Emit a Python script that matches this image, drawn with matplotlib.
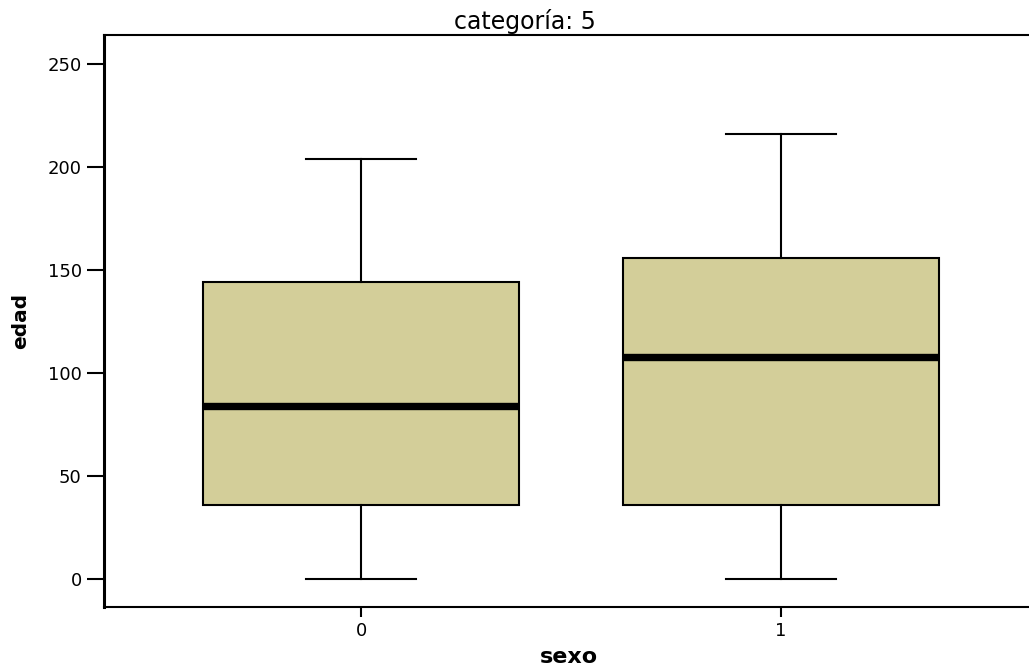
import matplotlib
matplotlib.use("Agg")
import matplotlib.pyplot as plt

categories = ["0", "1"]
whislo = [0, 0]
q1 = [36, 36]
med = [84, 108]
q3 = [144, 156]
whishi = [204, 216]
yticks = [0, 50, 100, 150, 200, 250]

plt.rcParams['font.family'] = ['DejaVu Sans']

fig = plt.figure(figsize=(10.29, 6.70), dpi=100)
W, H = 1029, 670
left, right, top, bottom = 104, 1038, 35, 607
ax = fig.add_axes([left / W, (H - bottom) / H, (right - left) / W, (bottom - top) / H])

stats = []
for i, c in enumerate(categories):
    stats.append(dict(label=c, whislo=whislo[i], q1=q1[i], med=med[i], q3=q3[i],
                      whishi=whishi[i], fliers=[]))

ax.bxp(stats, positions=range(len(categories)), widths=0.752, patch_artist=True,
       showfliers=False, capwidths=0.26,
       boxprops=dict(facecolor="#D3CE99", edgecolor="black", linewidth=1.5),
       medianprops=dict(color="black", linewidth=5.3, solid_capstyle="butt"),
       whiskerprops=dict(color="black", linewidth=1.5),
       capprops=dict(color="black", linewidth=1.5))

ax.set_xlim(-0.612, 1.612)
ax.set_ylim(-13.6, 264.1)
ax.set_yticks(yticks)
ax.set_xticks(range(len(categories)))
ax.set_xticklabels(categories)

ax.spines['right'].set_visible(False)
ax.spines['left'].set_linewidth(2.2)
ax.spines['top'].set_linewidth(1.5)
ax.spines['bottom'].set_linewidth(1.5)
ax.tick_params(axis='y', length=12, width=1.5, labelsize=13, pad=4)
ax.tick_params(axis='x', length=7, width=1.5, labelsize=13, pad=4)

ax.set_ylabel("edad", fontsize=14.5, fontweight="bold")
ax.yaxis.label.set_va("center")
ax.yaxis.set_label_coords((21 - left) / (right - left), 0.5)
ax.set_xlabel("sexo", fontsize=16, fontweight="bold")
ax.xaxis.label.set_va("center")
ax.xaxis.set_label_coords((569 - left) / (right - left), (bottom - 657) / (bottom - top))
fig.text(525 / W, 1 - 21 / H, "categoría: 5", ha="center", va="center", fontsize=17)

fig.savefig("out.png", dpi=100)
